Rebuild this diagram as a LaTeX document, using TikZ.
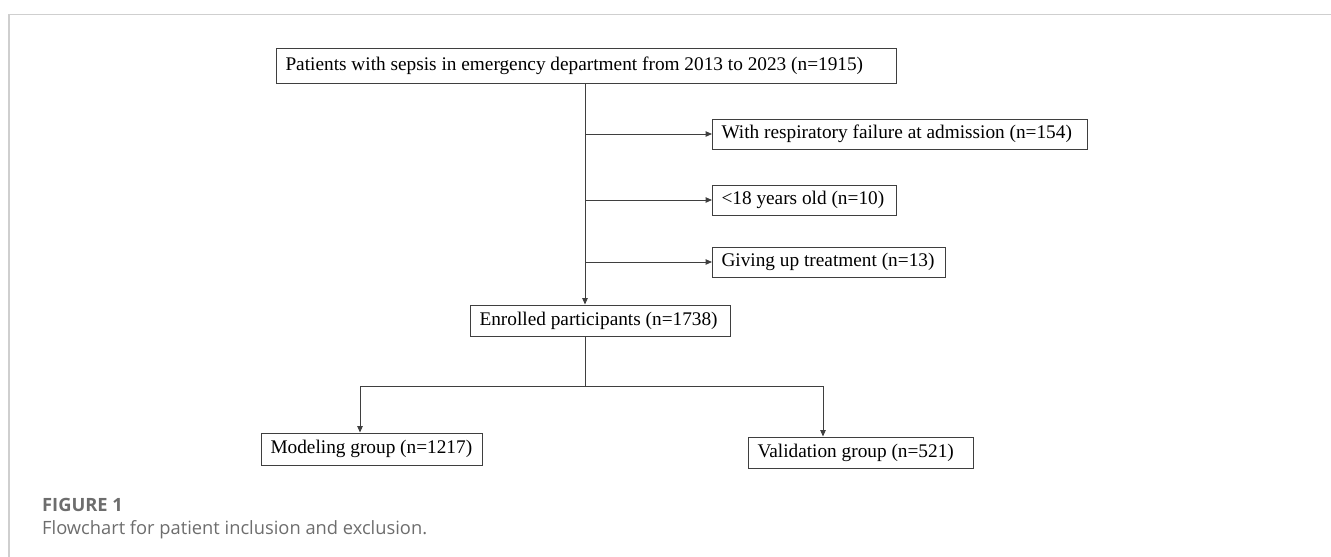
\documentclass[tikz,border=0pt]{standalone}
\usepackage{fontspec}
\setmainfont{Liberation Serif}
\newfontfamily\capfont{Open Sans}
\usetikzlibrary{arrows.meta}
\definecolor{linegray}{HTML}{3F3F3F}
\definecolor{framegray}{HTML}{CFCFCF}
\definecolor{capgray}{HTML}{6D6D6D}
\newcommand{\leftin}[2]{\makebox[#1][l]{#2}}

\begin{document}
\begin{tikzpicture}[x=1pt,y=-1pt,
        box/.style={draw=linegray,line width=1pt,anchor=west,inner xsep=9pt,inner ysep=0pt,minimum height=31pt,font=\fontsize{19.3pt}{23pt}\selectfont},
        arr/.style={draw=linegray,line width=1pt,-{Triangle[length=6.5pt,width=5.5pt]}},
        link/.style={draw=linegray,line width=1pt},
        frame/.style={draw=framegray,line width=1.5pt},
        caption/.style={anchor=west,inner sep=0pt,text=capgray,font=\capfont\fontsize{18.3pt}{21pt}\selectfont}]
            \useasboundingbox (0,0) rectangle (1331,557);
            \draw[frame] (1331,14.5) -- (9,14.5) -- (9,557);
            \coordinate (trunk) at (585,0);
            \coordinate (modx) at (360,386);
            \coordinate (valx) at (823,386);
            \node[box,minimum height=35pt] (all) at (276,65.5) {\leftin{602pt}{Patients with sepsis in emergency department from 2013 to 2023 (n=1915)}};
            \node[box,minimum height=30pt] (resp) at (712,134) {\leftin{357pt}{With respiratory failure at admission (n=154)}};
            \node[box,minimum height=30pt] (young) at (712,200) {\leftin{166pt}{<18 years old (n=10)}};
            \node[box,minimum height=30pt] (giveup) at (712,262) {\leftin{215pt}{Giving up treatment (n=13)}};
            \node[box] (enrol) at (470,320.5) {\leftin{242pt}{Enrolled participants (n=1738)}};
            \node[box,minimum height=32pt] (model) at (261,449) {\leftin{203pt}{Modeling group (n=1217)}};
            \node[box] (valid) at (748,452.5) {\leftin{207pt}{Validation group (n=521)}};
            \draw[arr] (all.south -| trunk) -- (enrol.north -| trunk);
            \draw[arr] (resp.west -| trunk) -- (resp.west);
            \draw[arr] (young.west -| trunk) -- (young.west);
            \draw[arr] (giveup.west -| trunk) -- (giveup.west);
            \draw[link] (enrol.south -| trunk) -- (trunk |- modx);
            \draw[link] (modx) -- (valx);
            \draw[arr] (modx) -- (model.north -| modx);
            \draw[arr] (valx) -- (valid.north -| valx);
            \node[caption,font=\capfont\bfseries\fontsize{18.3pt}{21pt}\selectfont] (fig) at (42,505) {FIGURE 1};
            \node[caption] (cap) at (42,530) {Flowchart for patient inclusion and exclusion.};
        \end{tikzpicture}
\end{document}
